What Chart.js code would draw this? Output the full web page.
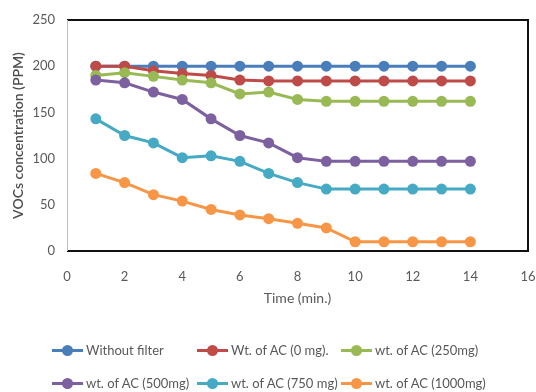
<!DOCTYPE html>
<html>
<head>
<meta charset="utf-8">
<script src="https://cdn.jsdelivr.net/npm/chart.js@4/dist/chart.umd.min.js"></script>
<style>
  html, body { margin: 0; padding: 0; background: #fff; }
  #wrap { position: relative; width: 536px; height: 392px; }
  #legend { position: absolute; left: 0; top: 0; width: 536px; height: 392px; pointer-events: none;
    font-family: Lato, 'Open Sans', sans-serif; font-size: 13px; color: #595959; }
  .item { position: absolute; display: flex; align-items: center; white-space: nowrap; }
  .mark { position: relative; width: 31px; height: 3px; margin-right: 3px; }
  .mark i { position: absolute; left: 10px; top: -4px; width: 11px; height: 11px; border-radius: 50%; }
</style>
</head>
<body>
<div id="wrap">
  <canvas id="chart" width="536" height="392"></canvas>
  <div id="legend"></div>
</div>
<script>
// Time points (min.)
const times = [1, 2, 3, 4, 5, 6, 7, 8, 9, 10, 11, 12, 13, 14];

const seriesNames = [
  'Without filter',
  'Wt. of AC (0 mg).',
  'wt. of AC (250mg)',
  'wt. of AC (500mg)',
  'wt. of AC (750 mg)',
  'wt. of AC (1000mg)'
];

const withoutFilter = [200, 200, 200, 200, 200, 200, 200, 200, 200, 200, 200, 200, 200, 200];
const ac0 = [200, 200, 195, 192, 190, 185, 184, 184, 184, 184, 184, 184, 184, 184];
const ac250 = [190, 193, 189, 185, 182, 170, 172, 164, 162, 162, 162, 162, 162, 162];
const ac500 = [185, 182, 172, 164, 143, 125, 117, 101, 97, 97, 97, 97, 97, 97];
const ac750 = [143, 125, 117, 101, 103, 97, 84, 74, 67, 67, 67, 67, 67, 67];
const ac1000 = [84, 74, 61, 54, 45, 39, 35, 30, 25, 10, 10, 10, 10, 10];

const colors = ['#4a7ebb', '#be4b48', '#98b954', '#7d60a0', '#46aac5', '#f79646'];

const allSeries = [withoutFilter, ac0, ac250, ac500, ac750, ac1000];

const tickFont = { family: 'Lato', size: 13 };
const tickColor = '#595959';

// box around the plot area: black top/right/bottom, grey left
const frame = {
  id: 'frame',
  afterDatasetsDraw(chart) {
    const { ctx, chartArea: a } = chart;
    ctx.save();
    ctx.lineWidth = 2;
    ctx.strokeStyle = '#111';
    ctx.beginPath();
    ctx.moveTo(a.left, a.top);
    ctx.lineTo(a.right, a.top);
    ctx.lineTo(a.right, a.bottom);
    ctx.lineTo(a.left, a.bottom);
    ctx.stroke();
    ctx.lineWidth = 1;
    ctx.strokeStyle = '#bfbfbf';
    ctx.beginPath();
    ctx.moveTo(a.left + 0.5, a.top);
    ctx.lineTo(a.left + 0.5, a.bottom);
    ctx.stroke();
    ctx.restore();
  }
};

const chart = new Chart(document.getElementById('chart'), {
  type: 'line',
  data: {
    datasets: allSeries.map((vals, i) => ({
      label: seriesNames[i],
      data: vals.map((v, j) => ({ x: times[j], y: v })),
      borderColor: colors[i],
      backgroundColor: colors[i],
      borderWidth: 3,
      pointRadius: 5.5,
      pointBorderWidth: 0,
      tension: 0,
      // later series sit on top, like the original
      order: allSeries.length - i
    }))
  },
  options: {
    responsive: false,
    animation: false,
    layout: { padding: { left: 6, top: 20, right: 8, bottom: 81 } },
    plugins: {
      legend: { display: false },
      tooltip: { enabled: false }
    },
    scales: {
      x: {
        type: 'linear',
        min: 0,
        max: 16,
        afterFit: s => { s.height = 60; s.paddingLeft = 0; s.paddingRight = 0; },
        ticks: { stepSize: 2, color: tickColor, font: tickFont, padding: 18 },
        grid: { display: false, drawTicks: false },
        border: { display: false },
        title: { display: true, text: 'Time (min.)', color: tickColor, font: { family: 'Lato', size: 14 } }
      },
      y: {
        min: 0,
        max: 250,
        afterFit: s => { s.width = 61; s.paddingTop = 0; s.paddingBottom = 0; },
        ticks: { stepSize: 50, color: tickColor, font: tickFont, padding: 12 },
        grid: { display: false, drawTicks: false },
        border: { display: false },
        title: { display: true, text: 'VOCs concentration (PPM)', color: '#4d4d4d', font: { family: 'Lato', size: 14, weight: '600' } }
      }
    }
  },
  plugins: [frame]
});

// legend laid out as a 3-column grid, built from the datasets
const legendPos = [[52, 350], [197, 350], [341, 350], [52, 383], [197, 383], [341, 383]];
const legend = document.getElementById('legend');
chart.data.datasets.forEach((ds, i) => {
  const el = document.createElement('div');
  el.className = 'item';
  el.style.left = legendPos[i][0] + 'px';
  el.style.top = (legendPos[i][1] - 9) + 'px';
  el.style.height = '18px';
  el.innerHTML = '<span class="mark" style="background:' + ds.borderColor + '"><i style="background:' +
    ds.borderColor + '"></i></span><span>' + ds.label + '</span>';
  legend.appendChild(el);
});
</script>
</body>
</html>
